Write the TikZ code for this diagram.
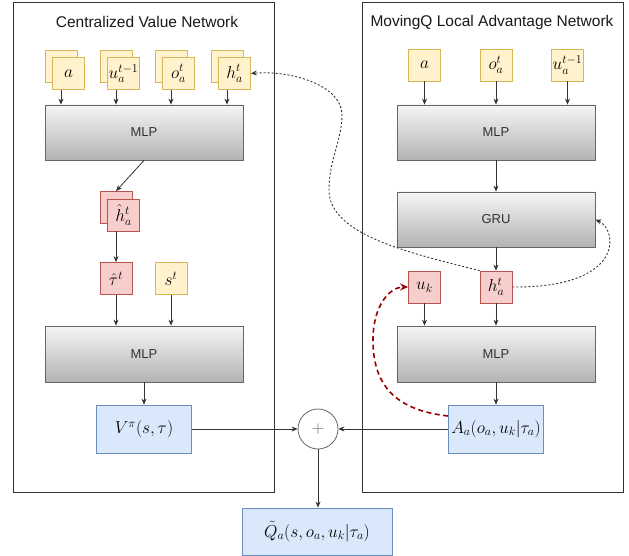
\documentclass[tikz,border=0pt]{standalone}
\usepackage{fontspec}
\setmainfont{Liberation Sans}
\usetikzlibrary{arrows.meta}

\definecolor{inFill}{HTML}{FFF2CC}
\definecolor{inDraw}{HTML}{D6B656}
\definecolor{hidFill}{HTML}{F8CECC}
\definecolor{hidDraw}{HTML}{B85450}
\definecolor{outFill}{HTML}{DAE8FC}
\definecolor{outDraw}{HTML}{6C8EBF}
\definecolor{layTop}{HTML}{F5F5F5}
\definecolor{layBot}{HTML}{B3B3B3}
\definecolor{layDraw}{HTML}{666666}
\definecolor{ink}{HTML}{333333}
\definecolor{loopRed}{HTML}{990000}

\begin{document}
\begin{tikzpicture}[x=1pt,y=-1pt,
  box/.style={minimum width=32pt,minimum height=32pt,inner sep=0pt,
    line width=0.8pt,font=\fontsize{17}{20}\selectfont},
  inbox/.style={box,fill=inFill,draw=inDraw},
  hidbox/.style={box,fill=hidFill,draw=hidDraw},
  outbox/.style={box,fill=outFill,draw=outDraw,minimum width=95pt,minimum height=48pt},
  layer/.style={draw=layDraw,line width=0.8pt,top color=layTop,bottom color=layBot,
    minimum width=198pt,minimum height=55pt,text=ink,font=\fontsize{13}{15}\selectfont},
  panel/.style={draw=ink,line width=1pt},
  title/.style={text=black!90,font=\fontsize{15.5}{18}\selectfont},
  arr/.style={draw=ink,line width=0.8pt,-{Stealth[length=6pt,width=5pt]}},
  feedback/.style={draw=ink,line width=0.9pt,dash pattern=on 2pt off 2pt,
    -{Stealth[length=6pt,width=5pt]}},
  actionloop/.style={draw=loopRed,line width=1.6pt,dash pattern=on 5pt off 3.5pt,
    -{Stealth[length=8pt,width=7pt]}}
]
\useasboundingbox (0,0) rectangle (629,556);

% the two network panels
\draw[panel] (13,3) rectangle (274,492);
\draw[panel] (362,3) rectangle (623,492);
\node[title] (tL) at (147,22) {Centralized Value Network};
\node[title] (tR) at (492,22) {MovingQ Local Advantage Network};

% ---- centralized value network (stacked inputs: one card behind each) ----
\node[inbox] (aB) at (61,66) {};
\node[inbox] (aF) at (68.5,73.5) {$a$};
\node[inbox] (uB) at (116,66) {};
\node[inbox] (uF) at (123.5,73.5) {$u_a^{t-1}$};
\node[inbox] (oB) at (171,66) {};
\node[inbox] (oF) at (178.5,73.5) {$o_a^t$};
\node[inbox] (hB) at (227,66) {};
\node[inbox] (hF) at (234.5,73.5) {$h_a^t$};

\node[layer] (mlpA) at (144,132.5) {MLP};
\draw[arr] (aB.center |- aF.south) -- (aB.center |- mlpA.north);
\draw[arr] (uB.center |- uF.south) -- (uB.center |- mlpA.north);
\draw[arr] (oB.center |- oF.south) -- (oB.center |- mlpA.north);
\draw[arr] (hB.center |- hF.south) -- (hB.center |- mlpA.north);

\node[hidbox] (hhB) at (116,207.5) {};
\node[hidbox] (hhF) at (123.5,215) {$\hat h_a^t$};
\draw[arr] (mlpA.south) -- (hhB.north);

\node[hidbox] (tau) at (116,278.5) {$\hat\tau^t$};
\node[inbox] (st) at (171,278.5) {$s^t$};
\draw[arr] (hhB.center |- hhF.south) -- (tau.north);

\node[layer, minimum height=56pt] (mlpB) at (144,354) {MLP};
\draw[arr] (tau.south) -- (tau.south |- mlpB.north);
\draw[arr] (st.south) -- (st.south |- mlpB.north);

\node[outbox] (V) at (144,429) {$V^\pi(s,\tau)$};
\draw[arr] (mlpB.south) -- (V.north);

% ---- local advantage network ----
\node[inbox] (ra) at (424.5,65) {$a$};
\node[inbox] (ro) at (496,65) {$o_a^t$};
\node[inbox] (ru) at (567.5,65) {$u_a^{t-1}$};

\node[layer] (mlpC) at (496,132.5) {MLP};
\draw[arr] (ra.south) -- (ra.south |- mlpC.north);
\draw[arr] (ro.south) -- (ro.south |- mlpC.north);
\draw[arr] (ru.south) -- (ru.south |- mlpC.north);

\node[layer] (gru) at (496,219.5) {GRU};
\draw[arr] (mlpC.south) -- (gru.north);

\node[hidbox] (uk) at (424.5,287) {$u_k$};
\node[hidbox] (hR) at (496,287) {$h_a^t$};
\draw[arr] (gru.south) -- (hR.north);

\node[layer, minimum height=56pt] (mlpD) at (496,354) {MLP};
\draw[arr] (uk.south) -- (uk.south |- mlpD.north);
\draw[arr] (hR.south) -- (mlpD.north);

\node[outbox] (A) at (496,429) {$A_a(o_a,u_k|\tau_a)$};
\draw[arr] (mlpD.south) -- (A.north);

% ---- combination ----
\node[circle,draw=layDraw,fill=white,line width=0.8pt,minimum size=40pt,inner sep=0pt,
  text=black!60,font=\fontsize{17}{20}\selectfont] (sum) at (318,429) {$+$};
\draw[arr] (V.east) -- (sum.west);
\draw[arr] (A.west) -- (sum.east);

\node[outbox, minimum width=150pt, minimum height=47pt] (Q) at (317,531.5)
  {$\tilde Q_a(s,o_a,u_k|\tau_a)$};
\draw[arr] (sum.south) -- (sum.south |- Q.north);

% ---- recurrent feedback of the hidden state ----
\coordinate (bendLow) at (329,190);
\coordinate (bendHigh) at (342,115);
\draw[feedback] (hR.north west) .. controls (410,253) and (329,235) .. (bendLow)
  .. controls (329,160) and (342,140) .. (bendHigh)
  .. controls (342,85) and (290,70) .. (hF.east);
\draw[feedback] (hR.east) .. controls (625,288) and (618,230) .. (gru.east);

% ---- chosen action fed back ----
\coordinate (actBend) at (373,340);
\draw[actionloop] ([yshift=13pt]A.west) .. controls (395,410) and (373,385) .. (actBend)
  .. controls (373,305) and (390,287) .. (uk.west);
\end{tikzpicture}
\end{document}
